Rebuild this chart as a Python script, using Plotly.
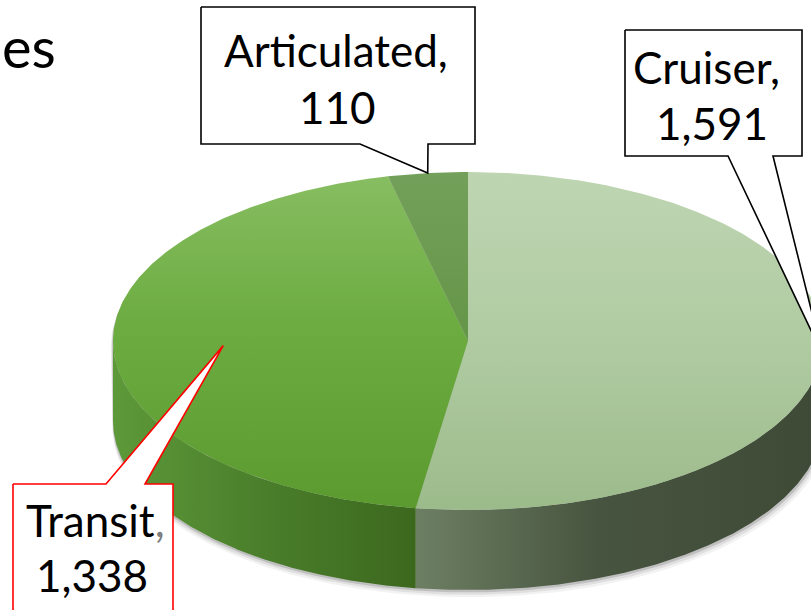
import numpy as np
import plotly.graph_objects as go

# ---------------- data ----------------
categories = ["Cruiser", "Transit", "Articulated"]
values = [1591, 1338, 110]
value_labels = ["1,591", "1,338", "110"]

# ---------------- styling ----------------
W, H = 811, 610
CX, CY, RX, RY, DEPTH = 468, 341, 355, 169, 80

top_scales = {
    "Cruiser": [[0, "#bed5b2"], [0.5, "#b0cba2"], [1, "#9cbb8b"]],
    "Transit": [[0, "#88be62"], [0.45, "#6cac41"], [1, "#5a9a2e"]],
    "Articulated": [[0, "#73a05a"], [1, "#578b36"]],
}
side_scales = {
    "Cruiser": [[0, "#6d7f63"], [0.45, "#47543f"], [1, "#3e4a36"]],
    "Transit": [[0, "#5d9939"], [0.5, "#4a7e2b"], [1, "#3c681e"]],
    "Articulated": [[0, "#4a7a2b"], [1, "#3c681e"]],
}
callouts = {
    "Articulated": dict(box=(201, 7, 475, 144), base=(360, 428), edge="bottom", color="black", r=1.0,
                        lines=[("Articulated,", 336, 65), ("110", 337, 122)]),
    "Cruiser": dict(box=(625, 30, 802, 156), base=(728, 773), edge="bottom", color="black", r=1.0,
                    lines=[("Cruiser,", 706, 82), ("1,591", 712, 138)]),
    "Transit": dict(box=(13, 484, 173, 660), base=(106, 145), edge="top", color="#ff0000", r=0.69,
                    lines=[("Transit<span style='color:#7f7f7f'>,</span>", 95, 535), ("1,338", 92, 590)]),
}
FONT = "Lato"
FS = 44


def pt(theta, r=1.0, dz=0.0):
    t = np.radians(theta)
    return CX + r * RX * np.sin(t), CY - r * RY * np.cos(t) + dz


total = sum(values)
bounds = np.concatenate([[0], np.cumsum(values) / total * 360.0])

fig = go.Figure()

# shadow under pie silhouette
for k, a in [(6, 0.05), (4, 0.08), (2, 0.14)]:
    th_top = np.linspace(-90, 90, 181)
    th_bot = np.linspace(90, 270, 181)
    xs, ys = [], []
    for t in th_top:
        x, y = pt(t)
        xs.append(CX + (x - CX) * (1 + k / 900)); ys.append(y + k)
    for t in th_bot:
        x, y = pt(t, dz=DEPTH)
        xs.append(CX + (x - CX) * (1 + k / 900) + k * 0.3); ys.append(y + k * 1.2)
    fig.add_trace(go.Scatter(x=xs, y=ys, fill="toself", mode="lines", line=dict(width=0),
                             fillcolor=f"rgba(0,0,0,{a})", hoverinfo="skip", showlegend=False))

# sides (visible front half: 90..270)
for i, name in enumerate(categories):
    a, b = bounds[i], bounds[i + 1]
    lo, hi = max(a, 90), min(b, 270)
    if hi <= lo:
        continue
    th = np.linspace(lo, hi, 200)
    xt, yt = zip(*[pt(t) for t in th])
    xb, yb = zip(*[pt(t, dz=DEPTH) for t in th[::-1]])
    fig.add_trace(go.Scatter(x=list(xt) + list(xb), y=list(yt) + list(yb), fill="toself", mode="lines",
                             line=dict(width=0),
                             fillgradient=dict(type="horizontal", colorscale=side_scales[name]),
                             hoverinfo="skip", showlegend=False))

# top faces
for i, name in enumerate(categories):
    a, b = bounds[i], bounds[i + 1]
    th = np.linspace(a, b, max(int((b - a) * 2), 10))
    pts = [(CX, CY)] + [pt(t) for t in th] + [(CX, CY)]
    xs, ys = zip(*pts)
    fig.add_trace(go.Scatter(x=xs, y=ys, fill="toself", mode="lines", line=dict(width=0),
                             fillgradient=dict(type="vertical", colorscale=top_scales[name],
                                               start=CY - RY, stop=CY + RY),
                             hoverinfo="skip", showlegend=False))

# callouts
for i, name in enumerate(categories):
    c = callouts[name]
    mid = (bounds[i] + bounds[i + 1]) / 2
    tx, ty = pt(mid, r=c["r"])
    x0, y0, x1, y1 = c["box"]
    ba, bb = c["base"]
    if c["edge"] == "bottom":
        px = [x0, x1, x1, bb, tx, ba, x0, x0]
        py = [y0, y0, y1, y1, ty, y1, y1, y0]
    else:
        px = [x0, ba, tx, bb, x1, x1, x0, x0]
        py = [y0, y0, ty, y0, y0, y1, y1, y0]
    fig.add_trace(go.Scatter(x=px, y=py, fill="toself", mode="lines", fillcolor="white",
                             line=dict(color=c["color"], width=1.6), hoverinfo="skip", showlegend=False))
    for txt, lx, base in c["lines"]:
        fig.add_annotation(x=lx, y=base - 0.33 * FS, text=txt, showarrow=False, xanchor="center",
                           yanchor="middle", font=dict(family=FONT, size=FS, color="black"))

# slide title fragment
fig.add_annotation(x=0, y=63 - 0.3 * 56, text="es", showarrow=False, xanchor="left", yanchor="middle",
                   font=dict(family=FONT, size=56, color="black"))

fig.update_layout(
    width=W, height=H, margin=dict(l=0, r=0, t=0, b=0),
    paper_bgcolor="white", plot_bgcolor="white",
    xaxis=dict(range=[0, W], visible=False, fixedrange=True),
    yaxis=dict(range=[H, 0], visible=False, fixedrange=True),
    showlegend=False,
)
fig.write_html("out.html", config={"displayModeBar": False},
               post_script="document.body.style.margin='0';document.body.style.overflow='hidden';")
